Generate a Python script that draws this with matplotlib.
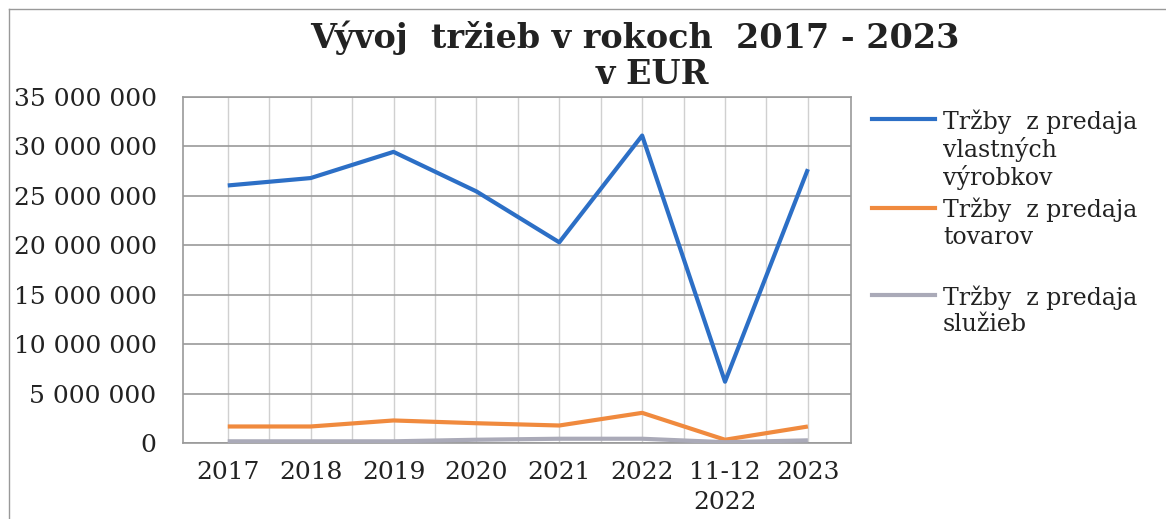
import numpy as np
import matplotlib
matplotlib.use('Agg')
import matplotlib.pyplot as plt
from matplotlib.lines import Line2D
from matplotlib.ticker import FuncFormatter, MultipleLocator

plt.rcParams['font.family'] = ['DejaVu Serif']

# data (EUR)
categories = ["2017", "2018", "2019", "2020", "2021", "2022", "11-12\n2022", "2023"]
vyrobky = [26.05e6, 26.8e6, 29.45e6, 25.45e6, 20.3e6, 31.1e6, 6.2e6, 27.7e6]
tovary = [1.67e6, 1.67e6, 2.28e6, 2.0e6, 1.77e6, 3.05e6, 0.33e6, 1.67e6]
sluzby = [0.17e6, 0.17e6, 0.17e6, 0.33e6, 0.43e6, 0.43e6, 0.08e6, 0.27e6]

series_labels = ["Tržby  z predaja\nvlastných\nvýrobkov",
                 "Tržby  z predaja\ntovarov",
                 "Tržby  z predaja\nslužieb"]
colors = ["#2c6fc6", "#f08a3e", "#aaaab8"]

W, H = 1166, 519
fig = plt.figure(figsize=(W / 100, H / 100), dpi=100)
ax = fig.add_axes([183 / W, 1 - 443 / H, (851 - 183) / W, (443 - 97) / H])

x = np.arange(len(categories))
for vals, c in zip([vyrobky, tovary, sluzby], colors):
    ax.plot(x, vals, color=c, linewidth=3.0, solid_capstyle='butt', zorder=3)

ax.set_xlim(-0.54, 7.52)
ax.set_ylim(0, 35e6)
ax.yaxis.set_major_locator(MultipleLocator(5e6))
ax.yaxis.set_major_formatter(FuncFormatter(lambda v, _: '{:,.0f}'.format(v).replace(',', ' ')))
ax.set_xticks(x)
ax.set_xticklabels(categories)
ax.set_xticks(np.arange(0.5, 7, 1), minor=True)
ax.tick_params(axis='both', which='both', length=0, labelsize=18, colors='#222222')
ax.tick_params(axis='y', pad=19)
ax.tick_params(axis='x', pad=13)
for lbl in ax.get_xticklabels():
    lbl.set_linespacing(1.38)

ax.grid(axis='y', color='#9a9a9a', linewidth=1.2, zorder=1)
ax.grid(axis='x', which='both', color='#d0d0d0', linewidth=1.0, zorder=1)
for s in ax.spines.values():
    s.set_color('#9a9a9a')
    s.set_linewidth(1.2)

fig.text(635 / W, 1 - 38 / H, "Vývoj  tržieb v rokoch  2017 - 2023", ha='center', va='center',
         fontsize=24, fontweight='bold', color='#222222')
fig.text(652 / W, 1 - 75 / H, "v EUR", ha='center', va='center',
         fontsize=24, fontweight='bold', color='#222222')

# legend, handle aligned with first text line as in the original
leg_y = [119, 208, 295]
for lab, c, yy in zip(series_labels, colors, leg_y):
    fig.add_artist(Line2D([872 / W, 935 / W], [1 - yy / H, 1 - yy / H],
                          transform=fig.transFigure, color=c, linewidth=3.0))
    fig.text(943 / W, 1 - (yy - 10) / H, lab, ha='left', va='top', fontsize=17,
             color='#222222', linespacing=1.17)

# scanned frame edges
fig.add_artist(Line2D([9 / W, 1], [1 - 9 / H, 1 - 9 / H], transform=fig.transFigure,
                      color='#999999', linewidth=1.0))
fig.add_artist(Line2D([9 / W, 9 / W], [0, 1 - 9 / H], transform=fig.transFigure,
                      color='#999999', linewidth=1.0))

fig.savefig("out.png", dpi=100)
